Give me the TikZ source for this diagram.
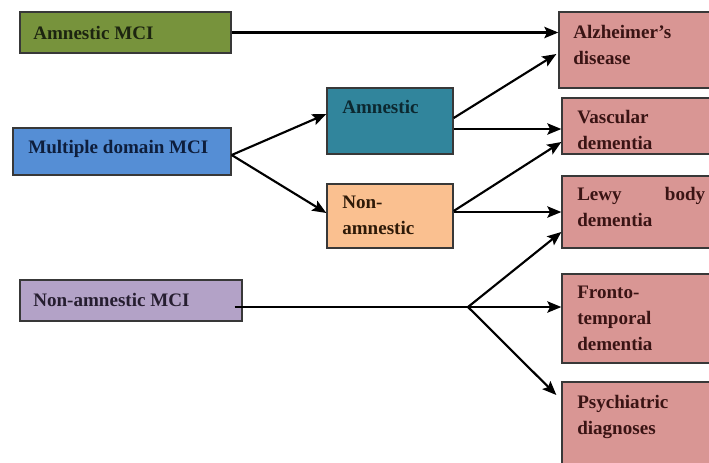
\documentclass[tikz,border=0pt]{standalone}
\usepackage{fontspec}
\setmainfont{Liberation Serif}
\usetikzlibrary{fit,arrows.meta,calc}
\newcommand\mylines[1]{\begin{tabular}[t]{@{}l@{}}#1\end{tabular}}
\definecolor{cgreen}{HTML}{77933C}
\definecolor{cblue}{HTML}{558ED5}
\definecolor{cteal}{HTML}{31859C}
\definecolor{corange}{HTML}{FAC090}
\definecolor{cpurple}{HTML}{B3A2C7}
\definecolor{cpink}{HTML}{D99694}
\definecolor{boxline}{HTML}{383838}
\definecolor{tgreen}{HTML}{1C2410}
\definecolor{tblue}{HTML}{0E1E3C}
\definecolor{tteal}{HTML}{0C2830}
\definecolor{torange}{HTML}{2E1A08}
\definecolor{tpurple}{HTML}{261E30}
\definecolor{tpink}{HTML}{3A1414}
\begin{document}
\begin{tikzpicture}[x=0.75pt,y=-0.75pt,
  box/.style={draw=boxline, line width=1pt, inner sep=0pt},
  txt/.style={anchor=base west, inner sep=0pt, font=\fontsize{14.3}{19.8}\selectfont\bfseries},
  arr/.style={line width=1.6pt, -{Stealth[length=10.5pt,width=8.5pt,inset=2pt]}},
  ln/.style={line width=1.6pt}]
\clip (0,0) rectangle (709,462);
\fill[white] (0,0) rectangle (709,462);

% boxes
\node[box, fill=cgreen, fit={(20,12) (231,53)}] (amci) {};
\node[box, fill=cblue, fit={(13,128) (231,175)}] (mdmci) {};
\node[box, fill=cpurple, fit={(20,280) (242,321)}] (namci) {};
\node[box, fill=cteal, fit={(327,88) (453,154)}] (am) {};
\node[box, fill=corange, fit={(327,184) (453,248)}] (na) {};
\node[box, fill=cpink, fit={(559,12) (716,88)}] (alz) {};
\node[box, fill=cpink, fit={(562,98) (716,154)}] (vas) {};
\node[box, fill=cpink, fit={(562,176) (716,248)}] (lew) {};
\node[box, fill=cpink, fit={(562,274) (716,363)}] (fro) {};
\node[box, fill=cpink, fit={(562,382) (716,475)}] (psy) {};

% texts
\node[txt, text=tgreen] (t-amci) at (33,39) {Amnestic MCI};
\node[txt, text=tblue] (t-mdmci) at (28,153) {Multiple domain MCI};
\node[txt, text=tpurple] (t-namci) at (33,306) {Non-amnestic MCI};
\node[txt, text=tteal] (t-am) at (342,113) {Amnestic};
\node[txt, text=torange] (t-na) at (342,208) {\mylines{Non-\\amnestic}};
\node[txt, text=tpink] (t-alz) at (573,38) {\mylines{Alzheimer’s\\disease}};
\node[txt, text=tpink] (t-vas) at (577,123) {\mylines{Vascular\\dementia}};
\node[txt, text=tpink] (t-lew) at (577,200) {\mylines{\makebox[96pt][l]{Lewy\hfill body}\\dementia}};
\node[txt, text=tpink] (t-fro) at (577,298) {\mylines{Fronto-\\temporal\\dementia}};
\node[txt, text=tpink] (t-psy) at (577,408) {\mylines{Psychiatric\\diagnoses}};

% connectors
\draw[arr] (amci.east) -- (amci.east -| alz.west);
\draw[arr] (mdmci.east |- 0,155) -- (am.west |- 0,114);
\draw[arr] (mdmci.east |- 0,155) -- (na.west |- 0,213);
\draw[arr] (am.east |- 0,118) -- ($(alz.west |- 0,54)+(-2,0)$);
\draw[arr] (am.east |- 0,129) -- (vas.west |- 0,129);
\draw[arr] (na.east |- 0,211) -- (vas.west |- 0,142);
\draw[arr] (na.east |- 0,212) -- (lew.west |- 0,212);
\coordinate (br) at (468,307);
\draw[ln] ($(namci.east |- br)+(-8,0)$) -- (br);
\draw[arr] (br) -- (lew.west |- 0,232);
\draw[arr] (br) -- (fro.west |- br);
\draw[arr] (br) -- ($(psy.west |- 0,395)+(-5,0)$);
\end{tikzpicture}
\end{document}
